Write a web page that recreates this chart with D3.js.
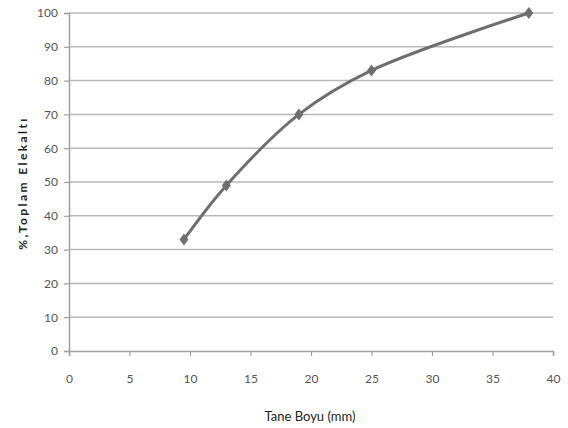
<!DOCTYPE html>
<html><head><meta charset="utf-8">
<script src="https://cdn.jsdelivr.net/npm/d3@7"></script>
<style>body{margin:0;background:#fff}svg{display:block}</style>
</head><body>
<script>
const xValues = [9.5, 13, 19, 25, 38];
const yValues = [33, 49, 70, 83, 100];
const xTicks = [0, 5, 10, 15, 20, 25, 30, 35, 40];
const yTicks = [0, 10, 20, 30, 40, 50, 60, 70, 80, 90, 100];
const xTitle = "Tane Boyu (mm)";
const yTitle = "%,Toplam Elekaltı";

const W = 568, H = 428;
const m = {left: 69, right: 15, top: 13, bottom: 77};
const svg = d3.select("body").append("svg").attr("width", W).attr("height", H);
const x = d3.scaleLinear().domain([0, 40]).range([m.left, W - m.right]);
const y = d3.scaleLinear().domain([0, 100]).range([H - m.bottom, m.top]);
const font = "Lato, 'Open Sans', sans-serif";

// gridlines
svg.append("g").selectAll("line").data(yTicks.filter(d => d > 0)).join("line")
  .attr("x1", x(0)).attr("x2", x(40)).attr("y1", d => y(d)).attr("y2", d => y(d))
  .attr("stroke", "#b8b8b8").attr("stroke-width", 1.5);

// y axis
const ya = svg.append("g").attr("transform", `translate(${x(0)},0)`)
  .call(d3.axisLeft(y).tickValues(yTicks).tickSize(5).tickPadding(6));
// x axis
const xa = svg.append("g").attr("transform", `translate(0,${y(0)})`)
  .call(d3.axisBottom(x).tickValues(xTicks).tickSize(5).tickPadding(18));
[ya, xa].forEach(a => {
  a.select(".domain").attr("stroke", "#a0a0a0").attr("stroke-width", 1.5);
  a.selectAll(".tick line").attr("stroke", "#a0a0a0").attr("stroke-width", 1.2);
  a.selectAll("text").attr("fill", "#555").style("font-family", font).style("font-size", "12px");
});

// line
const pts = xValues.map((d, i) => [d, yValues[i]]);
svg.append("path").datum(pts)
  .attr("d", d3.line().x(d => x(d[0])).y(d => y(d[1])).curve(d3.curveCatmullRom.alpha(0.5)))
  .attr("fill", "none").attr("stroke", "#6e6e6e").attr("stroke-width", 3);

// markers
svg.append("g").selectAll("path").data(pts).join("path")
  .attr("transform", d => `translate(${x(d[0])},${y(d[1])})`)
  .attr("d", "M0,-6L4.5,0L0,6L-4.5,0Z").attr("fill", "#6e6e6e");

// titles
svg.append("text").attr("x", 310).attr("y", 421).attr("text-anchor", "middle")
  .style("font-family", font).style("font-size", "13px").attr("fill", "#222").text(xTitle);
svg.append("text").attr("transform", "translate(27,183) rotate(-90)").attr("text-anchor", "middle")
  .style("font-family", font).style("font-size", "12px").style("font-weight", "bold")
  .style("letter-spacing", "2.4px").attr("fill", "#222").text(yTitle);
</script>
</body></html>
